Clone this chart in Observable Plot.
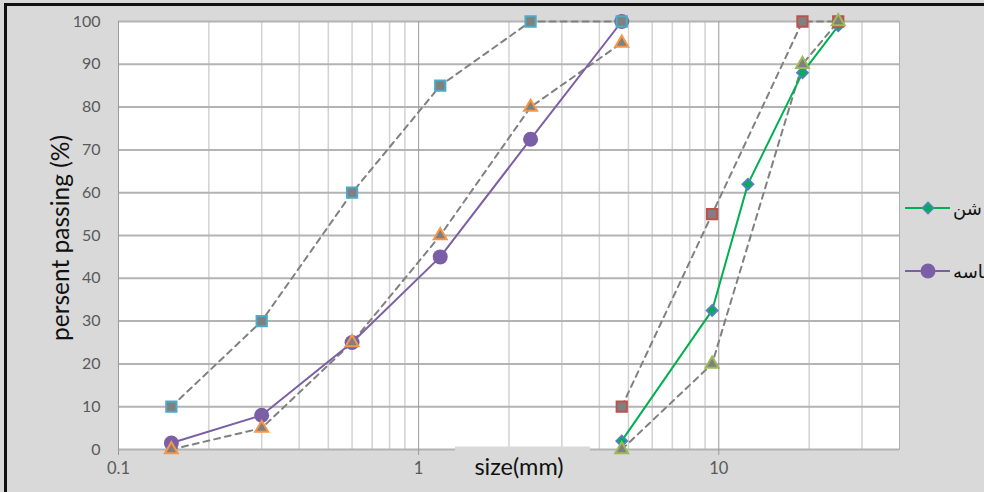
<!DOCTYPE html>
<html>
<head>
<meta charset="utf-8">
<script src="https://cdn.jsdelivr.net/npm/d3@7"></script>
<script src="https://cdn.jsdelivr.net/npm/@observablehq/plot@0.6"></script>
<style>
  html, body { margin: 0; padding: 0; background: #d9d9d9; }
  #wrap { position: relative; width: 984px; height: 492px; overflow: hidden; background: #d9d9d9; }
  #border { position: absolute; left: 4px; top: 3px; width: 1200px; height: 800px;
            border-top: 3px solid #111; border-left: 3px solid #111; }
  #chart { position: absolute; left: 0; top: 0; }
</style>
</head>
<body>
<div id="wrap"><div id="border"></div><div id="chart"></div></div>
<script>
// ---- data ----
const sandSize   = [0.15, 0.3, 0.6, 1.18, 2.36, 4.75];
const sandPass   = [1.5, 8, 25, 45, 72.5, 100];
const sandLower  = [0, 5, 25, 50, 80, 95];
const sandUpper  = [10, 30, 60, 85, 100, 100];

const gravelSize  = [4.75, 9.5, 12.5, 19, 25];
const gravelPass  = [2, 32.5, 62, 88, 99];
const gravelLimitSize = [4.75, 9.5, 19, 25];
const gravelLower = [0, 20, 90, 100];
const gravelUpper = [10, 55, 100, 100];

const xTickValues = [0.1, 1, 10];
const xMinorGrid  = [0.2,0.3,0.4,0.5,0.6,0.7,0.8,0.9,2,3,4,5,6,7,8,9,20,30];
const yTickValues = [0,10,20,30,40,50,60,70,80,90,100];

const legendLabels = ["شن", "ماسه"];
const xLabel = "size(mm)";
const yLabel = "persent passing (%)";

const zip = (xs, ys) => xs.map((x, i) => ({size: x, pass: ys[i]}));
const sand   = zip(sandSize, sandPass);
const sandLo = zip(sandSize, sandLower);
const sandHi = zip(sandSize, sandUpper);
const grav   = zip(gravelSize, gravelPass);
const gravLo = zip(gravelLimitSize, gravelLower);
const gravHi = zip(gravelLimitSize, gravelUpper);

const purple = "#7b5fa6", green = "#00b050", grayFill = "#808080", dashC = "#808080";
const dash = {x: "size", y: "pass", stroke: dashC, strokeWidth: 2, strokeDasharray: "6,5"};

const chart = Plot.plot({
  width: 984, height: 492,
  marginLeft: 118, marginRight: 85, marginTop: 21, marginBottom: 43,
  style: {background: "transparent", fontFamily: "Lato, 'Open Sans', sans-serif"},
  x: {type: "log", domain: [0.1, 40]},
  y: {domain: [0, 100]},
  marks: [
    Plot.frame({fill: "white", stroke: "#b0b0b0", strokeWidth: 1}),
    Plot.ruleX(xMinorGrid, {stroke: "#d2d2d2", strokeWidth: 1.5}),
    Plot.ruleY(yTickValues, {stroke: "#b3b3b3", strokeWidth: 2}),
    Plot.ruleX(xTickValues, {stroke: "#9a9a9a", strokeWidth: 1}),
    Plot.axisY({ticks: yTickValues, tickSize: 0, tickPadding: 18, fontSize: 16, fill: "#595959", label: null}),
    Plot.axisX({ticks: xTickValues, tickFormat: d => String(d), tickSize: 6, tickPadding: 7,
                fontSize: 16.5, fill: "#595959", stroke: "#9a9a9a", label: null}),
    Plot.line(sandLo, dash),
    Plot.line(sandHi, dash),
    Plot.line(gravLo, dash),
    Plot.line(gravHi, dash),
    Plot.line(sand, {x: "size", y: "pass", stroke: purple, strokeWidth: 2}),
    Plot.dot(sand, {x: "size", y: "pass", r: 7.5, fill: purple, symbol: "circle"}),
    Plot.line(grav, {x: "size", y: "pass", stroke: green, strokeWidth: 2}),
    Plot.dot(grav, {x: "size", y: "pass", symbol: "diamond2", r: 4.8, fill: green, stroke: "#4f81bd", strokeWidth: 2}),
    Plot.dot(sandHi, {x: "size", y: "pass", symbol: "square", r: 5.8, fill: grayFill, stroke: "#4bacc6", strokeWidth: 2}),
    Plot.dot(sandLo, {x: "size", y: "pass", symbol: "triangle", r: 4.8, fill: grayFill, stroke: "#f79646", strokeWidth: 2}),
    Plot.dot(gravHi, {x: "size", y: "pass", symbol: "square", r: 5.8, fill: grayFill, stroke: "#c0504d", strokeWidth: 2}),
    Plot.dot(gravLo, {x: "size", y: "pass", symbol: "triangle", r: 4.8, fill: grayFill, stroke: "#9bbb59", strokeWidth: 2})
  ]
});
document.getElementById("chart").appendChild(chart);

const svg = d3.select(chart);
// x-axis title with its own grey box
svg.append("rect").attr("x", 455).attr("y", 446.5).attr("width", 135).attr("height", 46).attr("fill", "#d9d9d9");
svg.append("text").attr("x", 519).attr("y", 466).attr("text-anchor", "middle").attr("dominant-baseline", "central")
  .attr("font-family", "Lato, sans-serif").attr("font-size", 23.5).attr("fill", "#111").text(xLabel);
// y-axis title
svg.append("text").attr("transform", "translate(59,238) rotate(-90)").attr("text-anchor", "middle")
  .attr("dominant-baseline", "central").attr("font-family", "Lato, sans-serif").attr("font-size", 24.5)
  .attr("fill", "#111").text(yLabel);

// legend
const lg = svg.append("g");
const entries = [
  {label: legendLabels[0], y: 208, color: green, sym: "diamond"},
  {label: legendLabels[1], y: 271, color: purple, sym: "circle"}
];
entries.forEach(e => {
  lg.append("line").attr("x1", 905).attr("x2", 950).attr("y1", e.y).attr("y2", e.y)
    .attr("stroke", e.color).attr("stroke-width", 2);
  if (e.sym === "circle") {
    lg.append("circle").attr("cx", 928).attr("cy", e.y).attr("r", 7.5).attr("fill", e.color);
  } else {
    lg.append("path").attr("d", d3.symbol(d3.symbolDiamond2, 80)())
      .attr("transform", `translate(928,${e.y})`).attr("fill", e.color)
      .attr("stroke", "#4f81bd").attr("stroke-width", 1.5);
  }
  lg.append("text").attr("x", 953).attr("y", e.y).attr("dominant-baseline", "central")
    .attr("direction", "rtl").attr("text-anchor", "end")
    .attr("font-family", "'DejaVu Sans', sans-serif").attr("font-size", 18).attr("fill", "#111").text(e.label);
});
</script>
</body>
</html>
